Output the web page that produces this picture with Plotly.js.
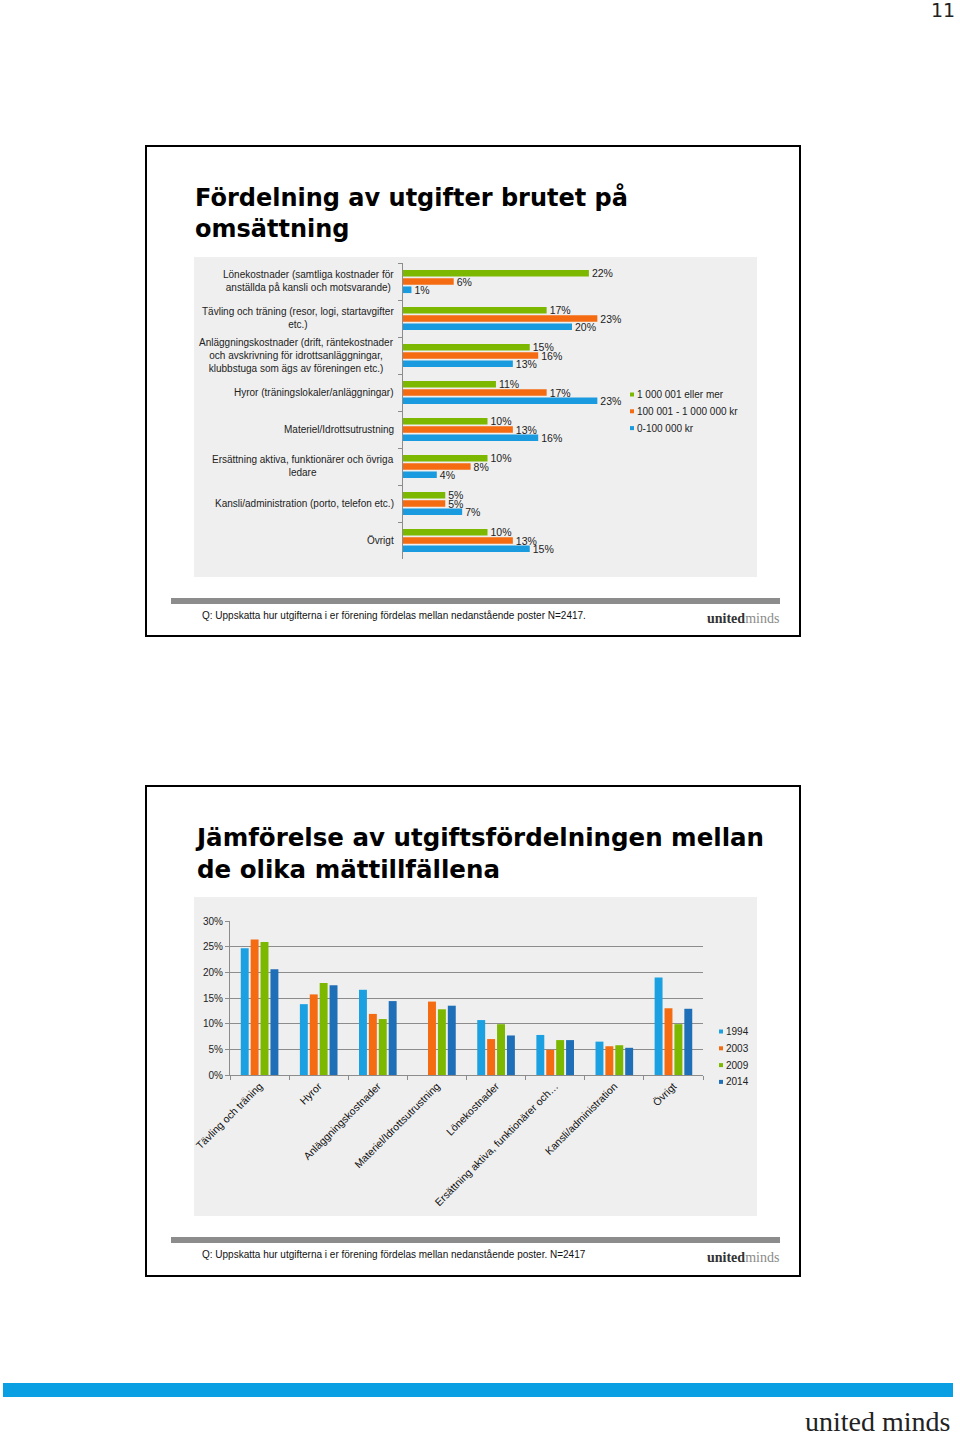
<!DOCTYPE html>
<html>
<head>
<meta charset="utf-8">
<script src="https://cdn.plot.ly/plotly-3.0.1.min.js"></script>
<style>
  html, body { margin: 0; padding: 0; background: #ffffff; }
  #page { width: 960px; height: 1432px; }
</style>
</head>
<body>
<div id="page"></div>
<script>
// ---------- Data: slide 1 (horizontal bars by turnover) ----------
const categories1 = [
  "Lönekostnader (samtliga kostnader för<br>anställda på kansli och motsvarande)",
  "Tävling och träning (resor, logi, startavgifter<br>etc.)",
  "Anläggningskostnader (drift, räntekostnader<br>och avskrivning för idrottsanläggningar,<br>klubbstuga som ägs av föreningen etc.)",
  "Hyror (träningslokaler/anläggningar)",
  "Materiel/Idrottsutrustning",
  "Ersättning aktiva, funktionärer och övriga<br>ledare",
  "Kansli/administration (porto, telefon etc.)",
  "Övrigt"
];
const seriesNames1 = ["1 000 001 eller mer", "100 001 - 1 000 000 kr", "0-100 000 kr"];
const largeClubs  = [22, 17, 15, 11, 10, 10, 5, 10];
const mediumClubs = [6, 23, 16, 17, 13, 8, 5, 13];
const smallClubs  = [1, 20, 13, 23, 16, 4, 7, 15];

// ---------- Data: slide 2 (vertical bars by survey year) ----------
const categories2 = [
  "Tävling och träning",
  "Hyror",
  "Anläggningskostnader",
  "Materiel/Idrottsutrustning",
  "Lönekostnader",
  "Ersättning aktiva, funktionärer och…",
  "Kansli/administration",
  "Övrigt"
];
const years = ["1994", "2003", "2009", "2014"];
const y1994 = [24.7, 13.8, 16.6, null, 10.7, 7.8, 6.5, 19.0];
const y2003 = [26.4, 15.7, 11.9, 14.3, 7.0, 4.9, 5.6, 13.0];
const y2009 = [25.9, 17.9, 10.9, 12.8, 9.9, 6.8, 5.8, 9.9];
const y2014 = [20.6, 17.5, 14.4, 13.5, 7.7, 6.8, 5.3, 12.9];

// ---------- Texts ----------
const title1 = "Fördelning av utgifter brutet på<br>omsättning";
const title2 = "Jämförelse av utgiftsfördelningen mellan<br>de olika mättillfällena";
const note1 = "Q: Uppskatta hur utgifterna i er förening fördelas mellan nedanstående poster N=2417.";
const note2 = "Q: Uppskatta hur utgifterna i er förening fördelas mellan nedanstående poster. N=2417";

// ---------- Styling ----------
const W = 960, H = 1432;
const px = v => v / W;
const py = v => 1 - v / H;
const SANS = "Liberation Sans, Arial, sans-serif";
const SERIF = "Liberation Serif, Times New Roman, serif";
const colors1 = ["#7cb800", "#f46b12", "#1a9be0"];
const colors2 = ["#1ba1e2", "#f46b12", "#7cb800", "#1f6fb8"];

const data = [];
[largeClubs, mediumClubs, smallClubs].forEach((vals, i) => {
  data.push({
    type: "bar", orientation: "h",
    y: categories1, x: vals,
    name: seriesNames1[i],
    marker: { color: colors1[i] },
    text: vals.map(v => v + "%"),
    textposition: "outside",
    constraintext: "none",
    cliponaxis: false,
    textfont: { family: SANS, size: 10.5, color: "#222" },
    xaxis: "x", yaxis: "y",
    showlegend: false,
    hoverinfo: "skip"
  });
});
[y1994, y2003, y2009, y2014].forEach((vals, i) => {
  data.push({
    type: "bar",
    x: categories2, y: vals,
    name: years[i],
    marker: { color: colors2[i] },
    xaxis: "x2", yaxis: "y2",
    showlegend: false,
    hoverinfo: "skip"
  });
});

const shapes = [
  { type: "rect", xref: "paper", yref: "paper", x0: px(146), x1: px(800), y0: py(146), y1: py(636), line: { color: "#000", width: 2 }, layer: "below" },
  { type: "rect", xref: "paper", yref: "paper", x0: px(146), x1: px(800), y0: py(786), y1: py(1276), line: { color: "#000", width: 2 }, layer: "below" },
  { type: "rect", xref: "paper", yref: "paper", x0: px(194), x1: px(757), y0: py(257), y1: py(577), fillcolor: "#efefef", line: { width: 0 }, layer: "below" },
  { type: "rect", xref: "paper", yref: "paper", x0: px(194), x1: px(757), y0: py(897), y1: py(1216), fillcolor: "#efefef", line: { width: 0 }, layer: "below" },
  { type: "rect", xref: "paper", yref: "paper", x0: px(171), x1: px(780), y0: py(598), y1: py(604), fillcolor: "#8c8c8c", line: { width: 0 }, layer: "below" },
  { type: "rect", xref: "paper", yref: "paper", x0: px(171), x1: px(780), y0: py(1237), y1: py(1243), fillcolor: "#8c8c8c", line: { width: 0 }, layer: "below" },
  { type: "rect", xref: "paper", yref: "paper", x0: px(3), x1: px(953), y0: py(1383), y1: py(1397), fillcolor: "#0a9fe2", line: { width: 0 }, layer: "below" }
];

const annotations = [
  { text: "11", xref: "paper", yref: "paper", x: px(957), y: py(10), xanchor: "right", yanchor: "middle", showarrow: false, font: { family: "DejaVu Sans, sans-serif", size: 19, color: "#222" } },
  { text: "<b>" + title1 + "</b>", xref: "paper", yref: "paper", x: px(193), y: py(181), xanchor: "left", yanchor: "top", align: "left", showarrow: false, font: { family: "DejaVu Sans, sans-serif", size: 24, color: "#000" } },
  { text: "<b>" + title2 + "</b>", xref: "paper", yref: "paper", x: px(193), y: py(821), xanchor: "left", yanchor: "top", align: "left", showarrow: false, font: { family: "DejaVu Sans, sans-serif", size: 24.5, color: "#000" } },
  { text: note1, xref: "paper", yref: "paper", x: px(200), y: py(615), xanchor: "left", yanchor: "middle", showarrow: false, font: { family: SANS, size: 10, color: "#111" } },
  { text: note2, xref: "paper", yref: "paper", x: px(200), y: py(1254), xanchor: "left", yanchor: "middle", showarrow: false, font: { family: SANS, size: 10, color: "#111" } },
  { text: "<b>united</b><span style='color:#8a8a8a'>minds</span>", xref: "paper", yref: "paper", x: px(781), y: py(618), xanchor: "right", yanchor: "middle", showarrow: false, font: { family: SERIF, size: 14, color: "#333" } },
  { text: "<b>united</b><span style='color:#8a8a8a'>minds</span>", xref: "paper", yref: "paper", x: px(781), y: py(1257), xanchor: "right", yanchor: "middle", showarrow: false, font: { family: SERIF, size: 14, color: "#333" } },
  { text: "united minds", xref: "paper", yref: "paper", x: px(803), y: py(1421), xanchor: "left", yanchor: "middle", showarrow: false, font: { family: SERIF, size: 28, color: "#222" } }
];
// category labels for slide 1 (centered multi-line, right edge at the axis)
categories1.forEach((c, i) => {
  annotations.push({ text: c, xref: "paper", yref: "y", x: px(396), y: i, xanchor: "right", yanchor: "middle", align: "center", showarrow: false, font: { family: SANS, size: 10, color: "#222" } });
});

// compact legends (small square keys like the original)
function addLegend(names, cols, markerX, firstY, step) {
  names.forEach((n, i) => {
    const yc = firstY + i * step;
    shapes.push({ type: "rect", xref: "paper", yref: "paper", x0: px(markerX - 2), x1: px(markerX + 2), y0: py(yc + 2), y1: py(yc - 2), fillcolor: cols[i], line: { width: 0 } });
    annotations.push({ text: n, xref: "paper", yref: "paper", x: px(markerX + 3), y: py(yc), xanchor: "left", yanchor: "middle", showarrow: false, font: { family: SANS, size: 10, color: "#222" } });
  });
}
addLegend(seriesNames1, colors1, 632, 394.5, 16.8);
addLegend(years, colors2, 721, 1031.5, 16.8);

const layout = {
  width: W, height: H,
  margin: { l: 0, r: 0, t: 0, b: 0 },
  paper_bgcolor: "#ffffff",
  plot_bgcolor: "rgba(0,0,0,0)",
  barmode: "group",
  bargap: 0.33,
  bargroupgap: 0.2,
  showlegend: false,
  font: { family: SANS, size: 10, color: "#222" },
  xaxis: {
    domain: [px(403), px(741)], anchor: "y", range: [0, 40],
    showgrid: false, zeroline: false, showline: false, showticklabels: false, ticks: ""
  },
  yaxis: {
    domain: [py(559), py(263)], anchor: "x", type: "category", autorange: "reversed",
    showgrid: false, zeroline: false, showline: true, linecolor: "#8c8c8c", linewidth: 1,
    ticks: "outside", tickson: "boundaries", ticklen: 4, tickcolor: "#8c8c8c",
    showticklabels: false
  },
  xaxis2: {
    domain: [px(230), px(703)], anchor: "y2", type: "category",
    showgrid: false, zeroline: false, showline: true, linecolor: "#8c8c8c", linewidth: 1,
    ticks: "outside", tickson: "boundaries", ticklen: 4, tickcolor: "#8c8c8c",
    tickangle: -45, tickfont: { family: SANS, size: 10.5, color: "#111" }
  },
  yaxis2: {
    domain: [py(1075), py(921)], anchor: "x2", range: [0, 30], dtick: 5, ticksuffix: "%",
    showgrid: true, gridcolor: "#8c8c8c", gridwidth: 1, zeroline: false,
    showline: true, linecolor: "#8c8c8c", linewidth: 1,
    ticks: "outside", ticklen: 4, tickcolor: "#8c8c8c",
    tickfont: { family: SANS, size: 10, color: "#222" }
  },
  shapes: shapes,
  annotations: annotations
};

Plotly.newPlot("page", data, layout, { staticPlot: true, displayModeBar: false });
</script>
</body>
</html>
